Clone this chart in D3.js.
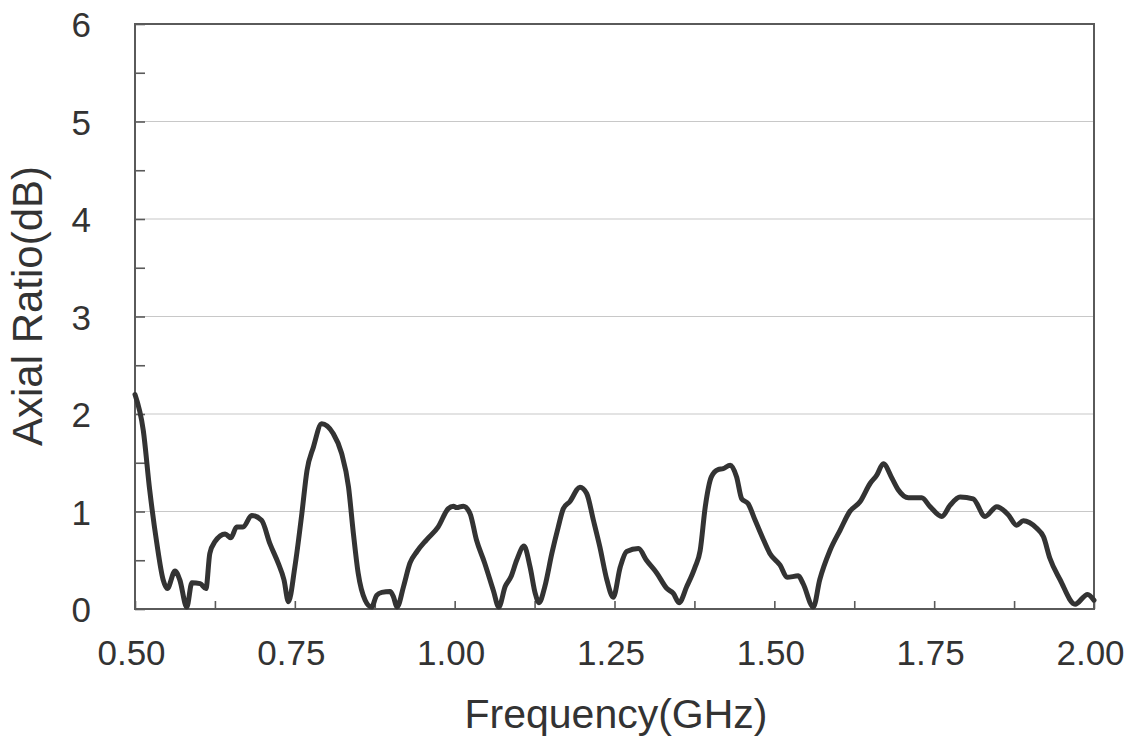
<!DOCTYPE html>
<html>
<head>
<meta charset="utf-8">
<script src="https://cdn.jsdelivr.net/npm/d3@7"></script>
<style>
  html, body { margin: 0; padding: 0; background: #fff; }
  svg { display: block; font-family: "Liberation Sans", Arial, sans-serif; }
</style>
</head>
<body>
<svg id="chart" width="1132" height="740"></svg>
<script>
// ---- data ----
const freq = [0.500,0.513,0.523,0.534,0.544,0.5505,0.5626,0.570,0.581,0.589,0.602,0.611,0.617,0.625,0.641,0.650,0.659,0.669,0.6825,0.698,0.711,0.724,0.733,0.740,0.750,0.761,0.769,0.779,0.792,0.810,0.823,0.834,0.8415,0.849,0.860,0.870,0.878,0.886,0.899,0.904,0.910,0.920,0.930,0.941,0.956,0.974,0.990,0.998,1.003,1.0135,1.024,1.034,1.047,1.0605,1.069,1.079,1.088,1.097,1.1085,1.118,1.126,1.132,1.141,1.152,1.162,1.170,1.180,1.196,1.2065,1.217,1.227,1.238,1.248,1.259,1.269,1.2875,1.300,1.316,1.332,1.342,1.351,1.363,1.376,1.384,1.392,1.4015,1.412,1.420,1.431,1.441,1.449,1.459,1.470,1.483,1.493,1.509,1.520,1.5375,1.545,1.561,1.571,1.587,1.603,1.618,1.634,1.650,1.660,1.6705,1.684,1.694,1.7097,1.7306,1.7436,1.762,1.775,1.7905,1.811,1.8296,1.848,1.8655,1.879,1.8895,1.910,1.921,1.931,1.947,1.9704,1.990,2.000];
const axialRatio = [2.20,1.83,1.22,0.68,0.30,0.21,0.39,0.30,0.02,0.27,0.26,0.21,0.57,0.69,0.77,0.73,0.84,0.84,0.96,0.91,0.67,0.47,0.30,0.075,0.43,0.98,1.42,1.66,1.90,1.80,1.60,1.25,0.78,0.37,0.09,0.02,0.14,0.17,0.18,0.13,0.02,0.23,0.47,0.59,0.71,0.84,1.03,1.055,1.04,1.055,0.98,0.71,0.47,0.19,0.02,0.23,0.33,0.50,0.645,0.43,0.16,0.065,0.23,0.57,0.84,1.03,1.10,1.25,1.185,0.91,0.64,0.30,0.12,0.43,0.59,0.62,0.50,0.37,0.21,0.16,0.065,0.23,0.43,0.60,1.05,1.355,1.43,1.44,1.475,1.355,1.13,1.08,0.91,0.71,0.57,0.45,0.325,0.34,0.26,0.02,0.30,0.60,0.81,1.00,1.10,1.29,1.37,1.49,1.34,1.22,1.14,1.14,1.05,0.95,1.065,1.15,1.13,0.95,1.05,0.97,0.86,0.905,0.83,0.74,0.52,0.30,0.05,0.15,0.09];
const xTickLabels = [0.50, 0.75, 1.00, 1.25, 1.50, 1.75, 2.00];
const xMinorTicks = [0.500,0.625,0.750,0.875,1.000,1.125,1.250,1.375,1.500,1.625,1.750,1.875,2.000];
const yTickLabels = [0, 1, 2, 3, 4, 5, 6];
const yMinorTicks = [0,0.5,1,1.5,2,2.5,3,3.5,4,4.5,5,5.5,6];
const gridValues = [1, 2, 3, 4, 5];
const xTitle = "Frequency(GHz)";
const yTitle = "Axial Ratio(dB)";

// ---- layout ----
const W = 1132, H = 740;
const m = { left: 135, top: 24, right: 38, bottom: 131 };
const iw = W - m.left - m.right, ih = H - m.top - m.bottom;

const svg = d3.select("#chart");
const g = svg.append("g").attr("transform", `translate(${m.left},${m.top})`);

const x = d3.scaleLinear().domain([0.5, 2.0]).range([0, iw]);
const y = d3.scaleLinear().domain([0, 6]).range([ih, 0]);

const frameColor = "#5a5a5a";
const textColor = "#333";

// gridlines
g.append("g").selectAll("line").data(gridValues).join("line")
  .attr("x1", 0).attr("x2", iw)
  .attr("y1", d => y(d)).attr("y2", d => y(d))
  .attr("stroke", "#c8c8c8").attr("stroke-width", 1.2);

// bottom minor ticks (inward)
const xAxisG = g.append("g").attr("transform", `translate(0,${ih})`)
  .call(d3.axisBottom(x).tickValues(xMinorTicks).tickSize(-8).tickFormat(""));
xAxisG.select(".domain").remove();
xAxisG.selectAll("line").attr("stroke", frameColor).attr("stroke-width", 1.6);

// bottom labels
const xLab = g.append("g").attr("transform", `translate(0,${ih})`)
  .call(d3.axisBottom(x).tickValues(xTickLabels).tickSize(0).tickFormat(d3.format(".2f")));
xLab.select(".domain").remove();
xLab.selectAll("text").attr("font-size", 35).attr("fill", textColor)
  .attr("font-family", "Liberation Sans, Arial, sans-serif")
  .attr("dx", -4).attr("dy", 0).attr("y", 56).attr("dominant-baseline", "auto");

// left minor ticks (inward)
const yAxisG = g.append("g")
  .call(d3.axisLeft(y).tickValues(yMinorTicks).tickSize(-10).tickFormat(""));
yAxisG.select(".domain").remove();
yAxisG.selectAll("line").attr("stroke", frameColor).attr("stroke-width", 1.6);

// left labels
const yLab = g.append("g")
  .call(d3.axisLeft(y).tickValues(yTickLabels).tickSize(0).tickFormat(d3.format("d")));
yLab.select(".domain").remove();
yLab.selectAll("text").attr("font-size", 35).attr("fill", textColor)
  .attr("font-family", "Liberation Sans, Arial, sans-serif")
  .attr("x", -44).attr("dy", "0.36em");

// frame
g.append("rect").attr("x", 0).attr("y", 0).attr("width", iw).attr("height", ih)
  .attr("fill", "none").attr("stroke", frameColor).attr("stroke-width", 2);

// curve
const data = freq.map((f, i) => ({ f, v: axialRatio[i] }));
const line = d3.line().x(d => x(d.f)).y(d => y(d.v)).curve(d3.curveMonotoneX);
g.append("path").datum(data)
  .attr("d", line)
  .attr("fill", "none").attr("stroke", "#333").attr("stroke-width", 5)
  .attr("stroke-linejoin", "round").attr("stroke-linecap", "round");

// axis titles
svg.append("text").attr("x", 616).attr("y", 728).attr("text-anchor", "middle")
  .attr("font-size", 41).attr("fill", textColor).text(xTitle);
svg.append("text")
  .attr("transform", `translate(42,306) rotate(-90)`)
  .attr("text-anchor", "middle")
  .attr("font-size", 42).attr("fill", textColor).text(yTitle);
</script>
</body>
</html>
